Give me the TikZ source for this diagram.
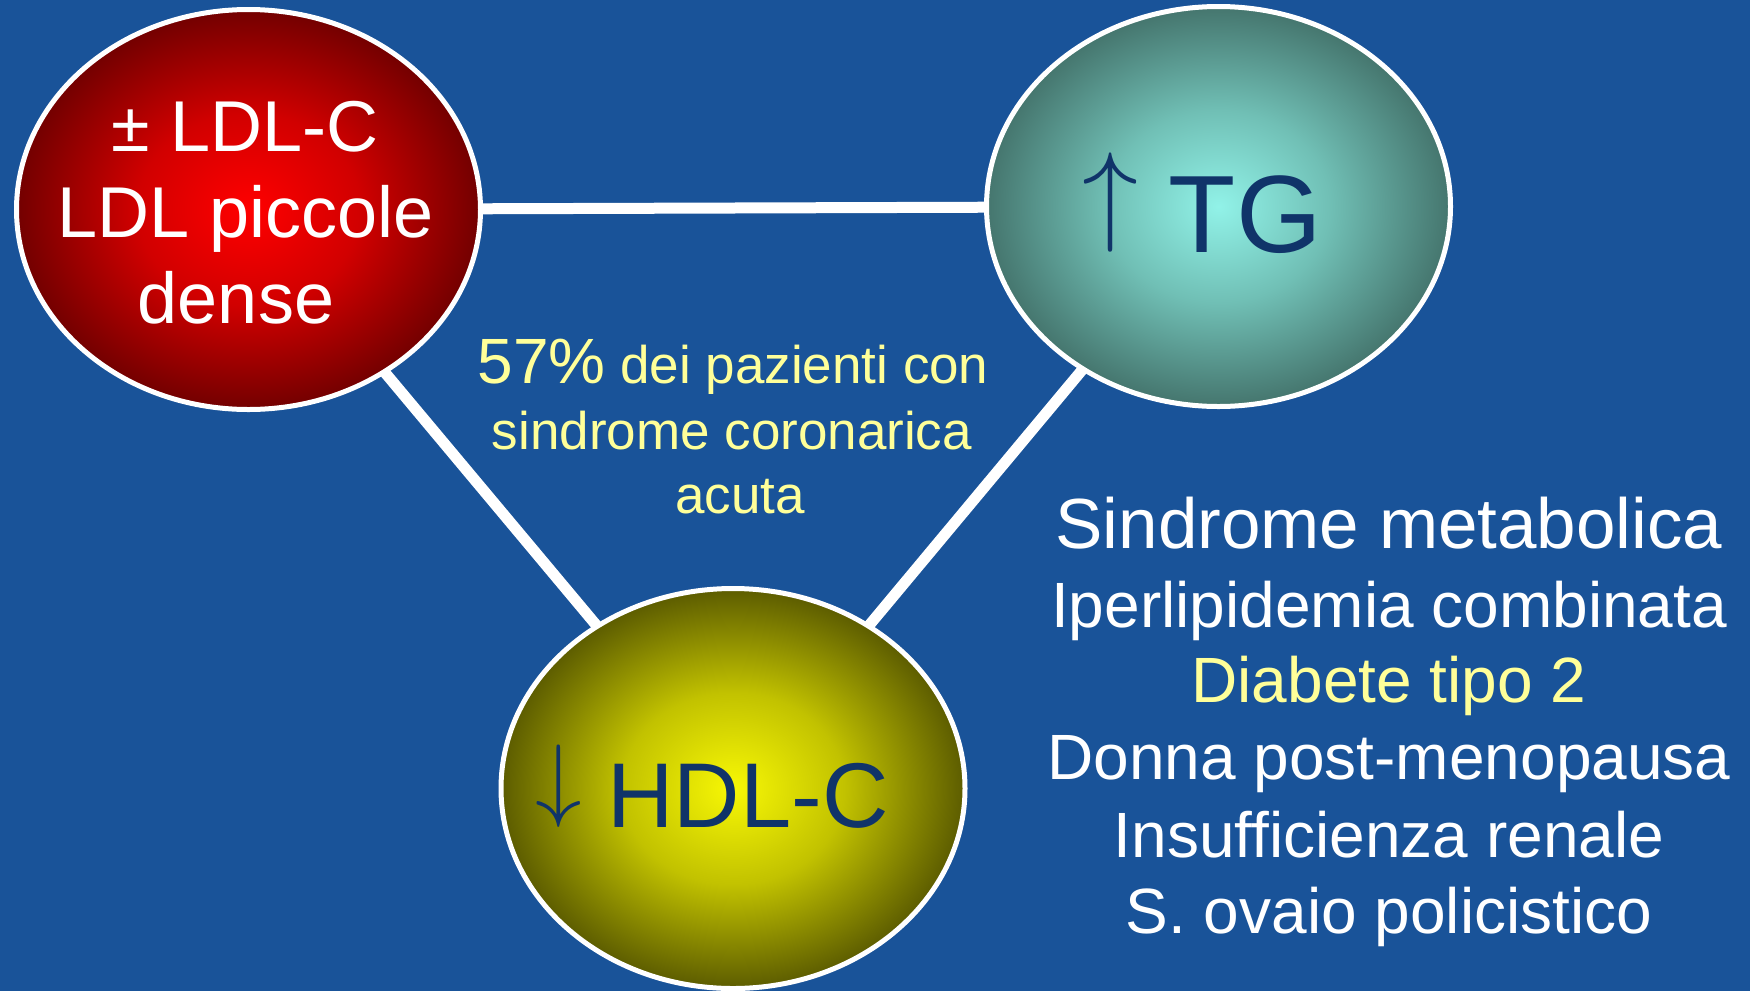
\RequirePackage{fix-cm}
\documentclass[tikz,border=0pt]{standalone}
\usepackage{fontspec}
\setmainfont{Liberation Sans}
\usetikzlibrary{shapes.geometric}
\definecolor{bgblue}{RGB}{25,83,153}
\definecolor{navy}{RGB}{16,52,105}
\definecolor{paleyel}{RGB}{255,255,153}
\pgfdeclareradialshading{redball}{\pgfpoint{0bp}{0bp}}{rgb(0bp)=(1,0,0); rgb(12bp)=(0.82,0,0); rgb(25bp)=(0.45,0,0); rgb(50bp)=(0.45,0,0)}
\pgfdeclareradialshading{tealball}{\pgfpoint{0bp}{0bp}}{rgb(0bp)=(0.57,0.95,0.91); rgb(12bp)=(0.44,0.75,0.71); rgb(25bp)=(0.27,0.46,0.43); rgb(50bp)=(0.27,0.46,0.43)}
\pgfdeclareradialshading{yelball}{\pgfpoint{0bp}{0bp}}{rgb(0bp)=(0.97,0.97,0.02); rgb(12bp)=(0.76,0.76,0); rgb(25bp)=(0.36,0.36,0); rgb(50bp)=(0.36,0.36,0)}
\pgfdeclarelayer{back}
\pgfsetlayers{back,main}
\begin{document}
\begin{tikzpicture}[x=1pt,y=-1pt,
  blob/.style={ellipse, draw=white, line width=5pt, minimum width=464pt, minimum height=400pt, inner sep=0pt, shade},
  link/.style={draw=white, line width=11pt},
  txt/.style={anchor=base, inner sep=0pt, outer sep=0pt},
  wtxt/.style={txt, text=white},
  ytxt/.style={txt, text=paleyel},
  ntxt/.style={txt, text=navy},
  redfont/.style={font=\fontsize{72}{86}\selectfont},
  midfont/.style={font=\fontsize{53}{64}\selectfont},
  listfont/.style={font=\fontsize{64}{77}\selectfont},
  bigfont/.style={font=\fontsize{71}{77}\selectfont}]
\useasboundingbox (0,0) rectangle (1750,991);

\node[blob, shading=redball] (ldl) at (248.5,209.5) {};
\node[blob, shading=tealball] (tg) at (1218.5,206.5) {};
\node[blob, shading=yelball] (hdl) at (733,788.5) {};

\begin{pgfonlayer}{back}
\fill[bgblue] (0,0) rectangle (1750,991);
\draw[link] (ldl.center) -- (tg.center);
\draw[link] (ldl.center) -- (hdl.center);
\draw[link] (tg.center) -- (hdl.center);
\end{pgfonlayer}

% red ellipse text
\node[wtxt, redfont] (ldl1) at (245,151) {{\fontsize{70}{70}\selectfont ±} LDL-C};
\node[wtxt, redfont] (ldl2) at (246,237) {LDL piccole};
\node[wtxt, redfont] (ldl3) at (236,323) {dense};

% teal ellipse text
\node[ntxt, font=\fontsize{110}{110}\selectfont] (tgt) at (1202,252)
  {\raisebox{21.7pt}{\fontsize{112}{112}\selectfont$\uparrow$} TG};

% yellow ellipse text
\node[ntxt, font=\fontsize{92}{92}\selectfont] (hdlt) at (712,827)
  {\raisebox{18pt}{\fontsize{93}{93}\selectfont$\downarrow$} HDL-C};

% centre text
\node[ytxt, midfont] (c1) at (733,383) {{\fontsize{64}{64}\selectfont 57\%} dei pazienti con};
\node[ytxt, midfont] (c2) at (732,449) {sindrome coronarica};
\node[ytxt, midfont] (c3) at (740,513) {acuta};

% right list
\node[wtxt, bigfont] (r1) at (1389,548) {Sindrome metabolica};
\node[wtxt, listfont] (r2) at (1389,627) {Iperlipidemia combinata};
\node[ytxt, listfont] (r3) at (1389,702) {Diabete tipo 2};
\node[wtxt, listfont] (r4) at (1389,779) {Donna post-menopausa};
\node[wtxt, listfont] (r5) at (1389,857) {Insufficienza renale};
\node[wtxt, listfont] (r6) at (1389,933) {S. ovaio policistico};
\end{tikzpicture}
\end{document}
